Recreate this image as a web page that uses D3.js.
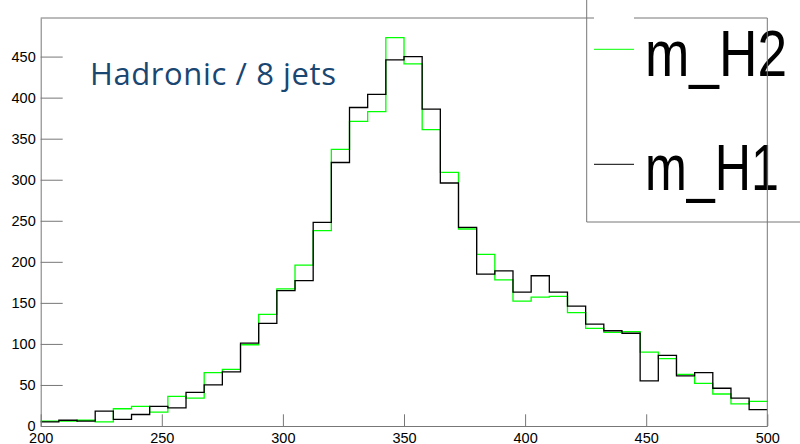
<!DOCTYPE html>
<html>
<head>
<meta charset="utf-8">
<script src="https://cdn.jsdelivr.net/npm/d3@7"></script>
<style>
  body { margin: 0; background: #fff; }
  svg { display: block; }
  .axis text { font-family: "Liberation Sans", Arial, sans-serif; font-size: 14.5px; fill: #000; }
  .axis line, .axis path { stroke: #777; }
</style>
</head>
<body>
<svg id="chart" width="800" height="444"></svg>
<script>
// bin edges: 40 bins of 7.5 from 200 to 500
var binLow = 200, binWidth = 7.5, nBins = 40;

// m_H1 (black)
var valuesH1 = [5, 7, 6, 18, 8, 14, 24, 22, 41, 50,
                66, 101, 125, 165, 177, 248, 321, 388, 404, 446,
                450, 386, 296, 242, 185, 189, 163, 183, 163, 146,
                124, 116, 113, 55, 86, 61, 65, 46, 34, 20];
// m_H2 (green)
var valuesH2 = [6, 6, 7, 5, 21, 24, 17, 36, 34, 65,
                69, 99, 136, 167, 196, 238, 337, 371, 383, 473,
                441, 361, 309, 240, 209, 178, 152, 157, 158, 138,
                119, 114, 115, 90, 82, 63, 52, 39, 27, 30];

var xMajor = [200, 250, 300, 350, 400, 450, 500];
var yMajor = [0, 50, 100, 150, 200, 250, 300, 350, 400, 450];
var xMinor = d3.range(200, 501, 10);
var yMinor = d3.range(0, 491, 10);

var legendNames = ["m_H2", "m_H1"];
var legendColors = ["#00ff00", "#000000"];

(function () {
	var svg = d3.select("#chart");
	var padLeft = 40.7, padRight = 767.3, padTop = 18, padBottom = 426;

	var x = d3.scaleLinear().domain([200, 500]).range([padLeft, padRight]);
	var y = d3.scaleLinear().domain([0, 497]).range([padBottom, padTop]);

	// histogram outlines
	function histPoints(vals) {
		var pts = vals.map(function (v, i) { return [binLow + i * binWidth, v]; });
		pts.push([binLow + nBins * binWidth, vals[vals.length - 1]]);
		return pts;
	}
	var line = d3.line()
		.x(function (d) { return x(d[0]); })
		.y(function (d) { return y(d[1]); })
		.curve(d3.curveStepAfter);

	svg.append("path").attr("d", line(histPoints(valuesH2)))
		.attr("fill", "none").attr("stroke", legendColors[0]).attr("stroke-width", 1.3);
	svg.append("path").attr("d", line(histPoints(valuesH1)))
		.attr("fill", "none").attr("stroke", legendColors[1]).attr("stroke-width", 1.3);

	// axes
	var gx = svg.append("g").attr("class", "axis").attr("transform", "translate(0," + padBottom + ")");
	gx.call(d3.axisBottom(x).tickValues(xMinor).tickSize(-6).tickSizeOuter(0).tickFormat(""));
	gx.call(d3.axisBottom(x).tickValues(xMajor).tickSize(-11.7).tickSizeOuter(0).tickPadding(6.5).tickFormat(d3.format("d")));

	var gy = svg.append("g").attr("class", "axis").attr("transform", "translate(" + padLeft + ",0)");
	gy.call(d3.axisLeft(y).tickValues(yMinor).tickSize(-11.7).tickSizeOuter(0).tickFormat(""));
	gy.call(d3.axisLeft(y).tickValues(yMajor).tickSize(-22).tickSizeOuter(0).tickPadding(5).tickFormat(d3.format("d")));
	svg.selectAll(".axis path.domain").attr("stroke", "#777");

	// frame top (gap where the legend sits)
	svg.append("line").attr("x1", padLeft).attr("x2", 594).attr("y1", padTop).attr("y2", padTop).attr("stroke", "#777");
	svg.append("line").attr("x1", 634).attr("x2", padRight).attr("y1", padTop).attr("y2", padTop).attr("stroke", "#777");

	// title
	svg.append("text")
		.attr("x", 90).attr("y", 85)
		.attr("font-family", "'Open Sans', sans-serif")
		.attr("font-size", 31)
		.attr("letter-spacing", 0.6)
		.attr("fill", "#1a4672")
		.text("Hadronic / 8 jets");

	// legend
	svg.append("line").attr("x1", 586.7).attr("x2", 586.7).attr("y1", 0).attr("y2", 222).attr("stroke", "#777");
	svg.append("line").attr("x1", 586.7).attr("x2", 800).attr("y1", 222).attr("y2", 222).attr("stroke", "#777");

	var legendY = [49.3, 164.3];
	var legendBase = [76, 190];
	var legendWidth = [142, 134];
	legendNames.forEach(function (name, i) {
		svg.append("line").attr("x1", 594).attr("x2", 634)
			.attr("y1", legendY[i]).attr("y2", legendY[i])
			.attr("stroke", legendColors[i]).attr("stroke-width", 1);
		svg.append("text")
			.attr("x", 645).attr("y", legendBase[i])
			.attr("font-family", "'Liberation Sans', Arial, sans-serif")
			.attr("font-size", 64)
			.attr("textLength", legendWidth[i])
			.attr("lengthAdjust", "spacingAndGlyphs")
			.text(name);
	});

	// frame right, drawn last so it crosses the legend text
	svg.append("line").attr("x1", padRight).attr("x2", padRight).attr("y1", padTop).attr("y2", padBottom).attr("stroke", "#777");
})();
</script>
</body>
</html>
